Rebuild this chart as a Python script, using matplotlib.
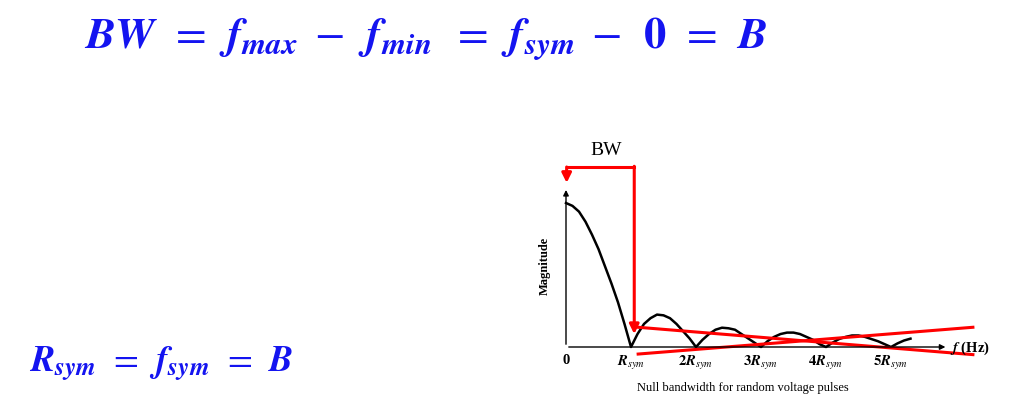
import matplotlib
matplotlib.use('Agg')
from matplotlib import pyplot as plt

plt.rcParams['mathtext.fontset'] = 'stix'
plt.rcParams['font.family'] = 'Liberation Serif'

# spectrum (x in units of R_sym, y relative magnitude)
freq = [0.0, 0.1, 0.2, 0.3, 0.4, 0.5, 0.6, 0.7, 0.8, 0.9, 1.0,
        1.1, 1.2, 1.3, 1.4, 1.5, 1.6, 1.7, 1.8, 1.9, 2.0,
        2.1, 2.2, 2.3, 2.4, 2.5, 2.6, 2.7, 2.8, 2.9, 3.0,
        3.1, 3.2, 3.3, 3.4, 3.5, 3.6, 3.7, 3.8, 3.9, 4.0,
        4.1, 4.2, 4.3, 4.4, 4.5, 4.6, 4.7, 4.8, 4.9, 5.0,
        5.1, 5.2, 5.3]
magnitude = [1.0, 0.98, 0.94, 0.87, 0.78, 0.68, 0.56, 0.44, 0.31, 0.16, 0.0,
             0.09, 0.16, 0.20, 0.225, 0.22, 0.20, 0.16, 0.11, 0.06, 0.0,
             0.05, 0.09, 0.12, 0.134, 0.13, 0.12, 0.09, 0.06, 0.03, 0.0,
             0.04, 0.07, 0.09, 0.10, 0.10, 0.09, 0.07, 0.05, 0.02, 0.0,
             0.03, 0.055, 0.07, 0.08, 0.08, 0.07, 0.055, 0.04, 0.02, 0.0,
             0.025, 0.045, 0.058]
tick_pos = [0, 1, 2, 3, 4, 5]
tick_labels = ['0', r'$\mathbfit{R}_{\mathit{sym}}$', r'$\mathbf{2}\mathbfit{R}_{\mathit{sym}}$',
               r'$\mathbf{3}\mathbfit{R}_{\mathit{sym}}$', r'$\mathbf{4}\mathbfit{R}_{\mathit{sym}}$',
               r'$\mathbf{5}\mathbfit{R}_{\mathit{sym}}$']
# red annotation lines (crossing)
line1_x = [1.11, 6.26]
line1_y = [0.137, -0.053]
line2_x = [1.11, 6.26]
line2_y = [-0.049, 0.137]

W, H = 1024, 402
fig = plt.figure(figsize=(W / 100, H / 100), dpi=100)
fig.patch.set_facecolor('white')

blue = '#1414f0'
fig.text(84 / W, 1 - 39 / H,
         r'$\mathbfit{BW}\;\,=\;\,\mathbfit{f}_{\mathbfit{max}}\;-\;\,\mathbfit{f}_{\mathbfit{min}}\;\;=\;\,'
         r'\mathbfit{f}_{\mathbfit{sym}}\;-\;\,\mathbf{0}\;\,=\;\,\mathbfit{B}$',
         color=blue, fontsize=32, va='center', ha='left')
fig.text(29 / W, 1 - 364 / H,
         r'$\mathbfit{R}_{\mathbfit{sym}}\;\,=\;\,\mathbfit{f}_{\mathbfit{sym}}\;\,=\;\,\mathbfit{B}$',
         color=blue, fontsize=26, va='center', ha='left')

# axes: origin at (566, 348) px, 65 px per R_sym, 144 px per unit magnitude
ax = fig.add_axes([566 / W, 1 - 348 / H, 65 * 5 / W, 144 / H])
ax.set_xlim(0, 5)
ax.set_ylim(0, 1)
ax.axis('off')

ax.plot(freq, magnitude, color='black', lw=1.8, clip_on=False, solid_joinstyle='round')

# axis arrows
ax.annotate('', xy=(5.88, 0), xytext=(0, 0),
            arrowprops=dict(arrowstyle='-|>', color='black', lw=1.0, mutation_scale=8), annotation_clip=False)
ax.annotate('', xy=(0, 1.11), xytext=(0, 0),
            arrowprops=dict(arrowstyle='-|>', color='black', lw=1.0, mutation_scale=8), annotation_clip=False)

for p, lab in zip(tick_pos, tick_labels):
    ax.text(p, -0.04, lab, ha='center', va='top', fontsize=10.5, fontweight='bold', clip_on=False)

ax.text(5.9, 0.0, r'$\mathbfit{f}$ (Hz)', ha='left', va='center', fontsize=10.5, fontweight='bold')
ax.text(-0.32, 0.57, 'Magnitude', rotation=90, ha='center', va='center', fontsize=9, fontweight='bold')
ax.text(2.72, -0.28, 'Null bandwidth for random voltage pulses', ha='center', va='center', fontsize=9)

# BW annotation
red = '#ff0000'
ax.plot([1.05, 0.01], [1.248, 1.248], color=red, lw=2.2, clip_on=False)
ax.annotate('', xy=(0.01, 1.14), xytext=(0.01, 1.25),
            arrowprops=dict(arrowstyle='-|>', color=red, lw=2.2, mutation_scale=14, shrinkA=0, shrinkB=0),
            annotation_clip=False)
ax.annotate('', xy=(1.05, 0.09), xytext=(1.05, 1.255),
            arrowprops=dict(arrowstyle='-|>', color=red, lw=2.2, mutation_scale=14, shrinkA=0, shrinkB=0),
            annotation_clip=False)
ax.text(0.62, 1.37, 'BW', ha='center', va='center', fontsize=14)

ax.plot(line1_x, line1_y, color=red, lw=2.2, clip_on=False)
ax.plot(line2_x, line2_y, color=red, lw=2.2, clip_on=False)

fig.savefig('out.png', dpi=100)
